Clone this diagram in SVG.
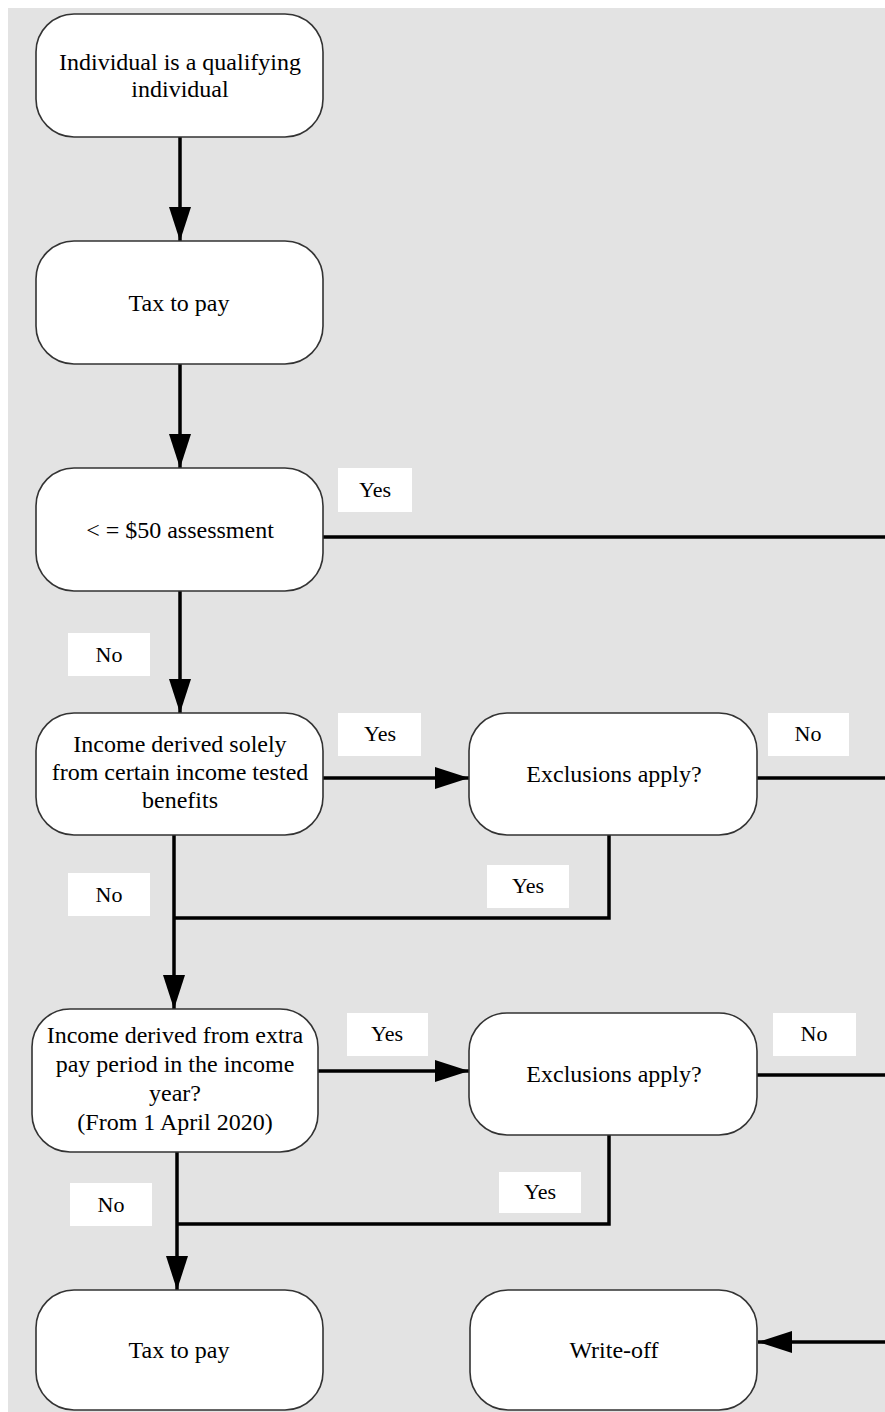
<svg xmlns="http://www.w3.org/2000/svg" width="885" height="1412" viewBox="0 0 885 1412">
<style>
.node rect{fill:#fff;stroke:#333;stroke-width:1.6}
.node text{font-family:"Liberation Serif","Times New Roman",serif;font-size:24px;fill:#000;text-anchor:middle}
.lbl rect{fill:#fff;stroke:none}
.lbl text{font-family:"Liberation Serif","Times New Roman",serif;font-size:22px;fill:#000;text-anchor:middle}
.conn path{fill:none;stroke:#000;stroke-width:3.5}
</style>
<defs>
<marker id="arr" markerUnits="userSpaceOnUse" markerWidth="36" markerHeight="24" refX="34" refY="11" orient="auto">
<path d="M0,0 L34,11 L0,22 Z" fill="#000"/>
</marker>
</defs>
<rect x="0" y="0" width="885" height="1412" fill="#fff"/>
<rect x="8" y="8" width="877" height="1404" fill="#e3e3e3"/>

<g id="connectors" class="conn">
<path d="M180,137 V241" marker-end="url(#arr)"/>
<path d="M180,364 V468" marker-end="url(#arr)"/>
<path d="M323,537 H885"/>
<path d="M180,591 V713" marker-end="url(#arr)"/>
<path d="M323,778 H469" marker-end="url(#arr)"/>
<path d="M757,778 H885"/>
<path d="M174,835 V1009" marker-end="url(#arr)"/>
<path d="M609,835 V918 H174"/>
<path d="M318,1071 H469" marker-end="url(#arr)"/>
<path d="M757,1075 H885"/>
<path d="M177,1152 V1290" marker-end="url(#arr)"/>
<path d="M609,1135 V1224 H177"/>
<path d="M885,1342 H758" marker-end="url(#arr)"/>
</g>

<g id="labels">
<g class="lbl" id="l1"><rect x="338" y="468" width="74" height="44"/><text x="375" y="497">Yes</text></g>
<g class="lbl" id="l2"><rect x="68" y="633" width="82" height="43"/><text x="109" y="662">No</text></g>
<g class="lbl" id="l3"><rect x="338" y="713" width="83" height="43"/><text x="380" y="741">Yes</text></g>
<g class="lbl" id="l4"><rect x="768" y="713" width="81" height="43"/><text x="808" y="741">No</text></g>
<g class="lbl" id="l5"><rect x="487" y="865" width="82" height="43"/><text x="528" y="893">Yes</text></g>
<g class="lbl" id="l6"><rect x="68" y="873" width="82" height="43"/><text x="109" y="902">No</text></g>
<g class="lbl" id="l7"><rect x="347" y="1013" width="81" height="43"/><text x="387" y="1041">Yes</text></g>
<g class="lbl" id="l8"><rect x="773" y="1013" width="83" height="43"/><text x="814" y="1041">No</text></g>
<g class="lbl" id="l9"><rect x="499" y="1172" width="82" height="41"/><text x="540" y="1199">Yes</text></g>
<g class="lbl" id="l10"><rect x="70" y="1183" width="82" height="43"/><text x="111" y="1212">No</text></g>
</g>

<g id="n1" class="node"><rect x="36" y="14" width="287" height="123" rx="38" ry="38"/><text x="180" y="70">Individual is a qualifying</text><text x="180" y="97">individual</text></g>
<g id="n2" class="node"><rect x="36" y="241" width="287" height="123" rx="38" ry="38"/><text x="179" y="311">Tax to pay</text></g>
<g id="n3" class="node"><rect x="36" y="468" width="287" height="123" rx="38" ry="38"/><text x="180" y="538">&lt; = $50 assessment</text></g>
<g id="n4" class="node"><rect x="36" y="713" width="287" height="122" rx="38" ry="38"/><text x="180" y="752">Income derived solely</text><text x="180" y="780">from certain income tested</text><text x="180" y="808">benefits</text></g>
<g id="n5" class="node"><rect x="469" y="713" width="288" height="122" rx="38" ry="38"/><text x="614" y="782">Exclusions apply?</text></g>
<g id="n6" class="node"><rect x="32" y="1009" width="286" height="143" rx="38" ry="38"/><text x="175" y="1043">Income derived from extra</text><text x="175" y="1072">pay period in the income</text><text x="175" y="1101">year?</text><text x="175" y="1130">(From 1 April 2020)</text></g>
<g id="n7" class="node"><rect x="469" y="1013" width="288" height="122" rx="38" ry="38"/><text x="614" y="1082">Exclusions apply?</text></g>
<g id="n8" class="node"><rect x="36" y="1290" width="287" height="120" rx="38" ry="38"/><text x="179" y="1358">Tax to pay</text></g>
<g id="n9" class="node"><rect x="470" y="1290" width="287" height="120" rx="38" ry="38"/><text x="614" y="1358">Write-off</text></g>
</svg>
